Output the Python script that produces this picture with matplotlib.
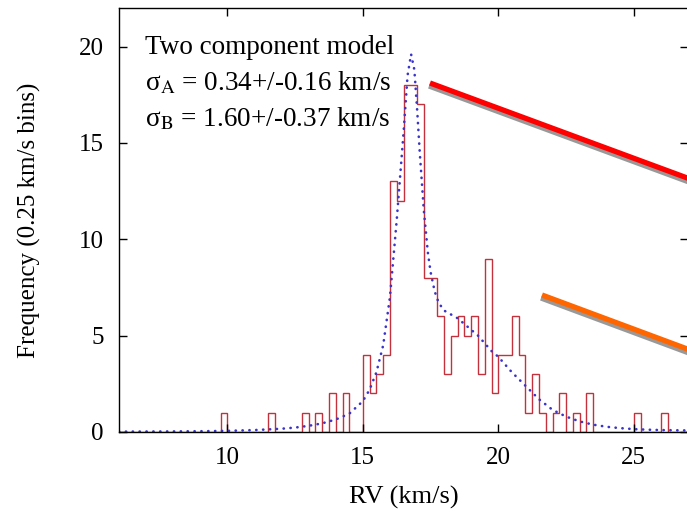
import numpy as np
import matplotlib
matplotlib.use('Agg')
import matplotlib.pyplot as plt
from matplotlib.lines import Line2D

# histogram: left edge of each non-empty 0.25 km/s bin and its count
bin_left = [9.75, 11.5, 12.75, 13.25, 13.75, 14.25, 15.0, 15.25, 15.5, 15.75,
            16.0, 16.25, 16.5, 16.75, 17.0, 17.25, 17.5, 17.75, 18.0, 18.25,
            18.5, 18.75, 19.0, 19.25, 19.5, 19.75, 20.0, 20.25, 20.5, 20.75,
            21.0, 21.25, 21.5, 22.0, 22.25, 22.75, 23.25, 25.0, 26.0]
bin_count = [1, 1, 1, 1, 2, 2, 4, 2, 3, 4,
             13, 12, 18, 18, 17, 8, 8, 6, 3, 5,
             6, 5, 6, 3, 9, 2, 4, 4, 6, 4,
             1, 3, 1, 1, 2, 1, 2, 1, 1]
bin_width = 0.25
x_range = (6.0, 27.0)

# two component model curve
model_rv = [6.0, 8.0, 9.0, 10.0, 11.0, 12.0, 12.5, 13.0, 13.5, 14.0, 14.5,
            15.0, 15.25, 15.5, 15.75, 16.0, 16.25, 16.5, 16.65, 16.78, 16.9,
            17.0, 17.1, 17.25, 17.4, 17.5, 17.65, 17.8, 18.0, 18.25, 18.5,
            18.75, 19.0, 19.25, 19.5, 19.75, 20.0, 20.5, 21.0, 21.5, 22.0,
            22.5, 23.0, 23.5, 24.0, 24.5, 25.0, 25.5, 26.0, 27.0]
model_freq = [0.02, 0.03, 0.04, 0.06, 0.10, 0.17, 0.23, 0.32, 0.45, 0.65, 0.95,
              1.6, 2.2, 3.1, 4.5, 7.0, 11.0, 15.5, 18.5, 19.6, 18.8,
              16.8, 14.5, 11.5, 9.3, 8.3, 7.3, 6.7, 6.3, 6.1, 5.9,
              5.6, 5.3, 5.0, 4.6, 4.2, 3.9, 3.1, 2.4, 1.7, 1.15,
              0.8, 0.55, 0.38, 0.27, 0.2, 0.15, 0.12, 0.1, 0.08]

x_ticks = [10, 15, 20, 25]
y_ticks = [0, 5, 10, 15, 20]

labels = ['Two component model',
          'σ$_{\\rm A}$ = 0.34+/-0.16 km/s',
          'σ$_{\\rm B}$ = 1.60+/-0.37 km/s']

plt.rcParams['font.family'] = 'Liberation Serif'
plt.rcParams['mathtext.fontset'] = 'stix'

edges = np.arange(x_range[0], x_range[1] + bin_width / 2, bin_width)
counts = np.zeros(len(edges) - 1)
for left, c in zip(bin_left, bin_count):
    counts[int(round((left - x_range[0]) / bin_width))] = c

W, H = 687, 517
fig = plt.figure(figsize=(W / 100, H / 100), dpi=100)
ax = fig.add_axes([119 / W, (H - 432) / H, 569 / W, 424 / H])

ax.stairs(counts, edges, color='#c4303c', linewidth=1.0, baseline=0)
ax.plot(model_rv, model_freq, color='#3a35c8', linewidth=1.9,
        linestyle=(0, (0.1, 2.5)), dash_capstyle='round')

ax.set_xlim(*x_range)
ax.set_ylim(0, 22)
ax.set_xticks(x_ticks)
ax.set_yticks(y_ticks)
ax.tick_params(direction='in', length=6, width=1, top=True, right=True,
               labelsize=18)
ax.tick_params(axis='x', pad=11)
ax.tick_params(axis='y', pad=11)
for s in ax.spines.values():
    s.set_linewidth(1.0)

ax.set_xlabel('RV (km/s)', fontsize=19, labelpad=12)
ax.set_ylabel('Frequency (0.25 km/s bins)', fontsize=18, labelpad=27)

for i, t in enumerate(labels):
    ax.text(0.046, 0.907 - i * 0.085, t, transform=ax.transAxes,
            fontsize=19.5, va='center', ha='left')

# thick pointer lines with grey shadow, in figure pixels
def pointer(x0, y0, x1, y1, colour):
    fx = lambda v: v / W
    fy = lambda v: 1 - v / H
    fig.add_artist(Line2D([fx(x0 - 1), fx(x1 - 1)], [fy(y0 + 3), fy(y1 + 3)],
                          color='#999999', linewidth=3.8, solid_capstyle='butt'))
    fig.add_artist(Line2D([fx(x0), fx(x1)], [fy(y0), fy(y1)],
                          color=colour, linewidth=3.8, solid_capstyle='butt'))

pointer(430, 83, 690, 179, '#ff0000')
pointer(542, 295, 690, 350, '#ff6600')

fig.savefig('out.png', dpi=100)
